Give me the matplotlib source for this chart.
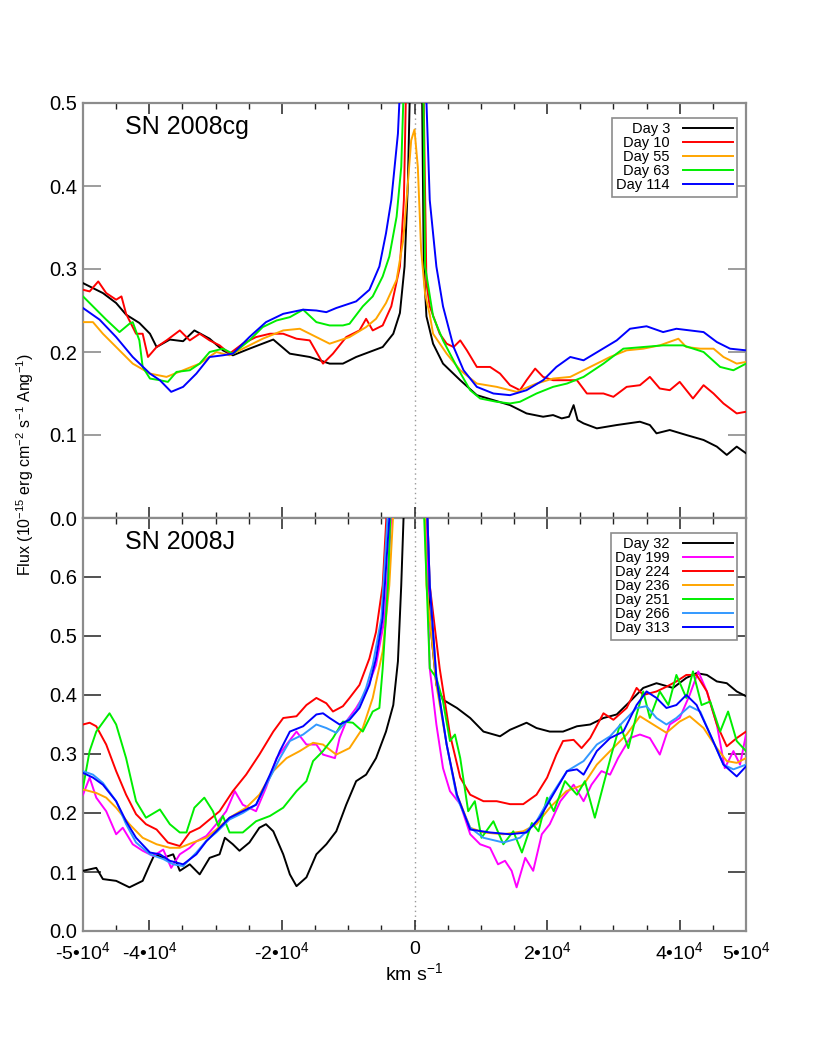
import matplotlib
matplotlib.use("Agg")
import matplotlib.pyplot as plt
from matplotlib.ticker import MultipleLocator, FormatStrFormatter

plt.rcParams['font.family'] = ['Liberation Sans', 'DejaVu Sans']
plt.rcParams['mathtext.fontset'] = 'custom'
plt.rcParams['mathtext.rm'] = 'Liberation Sans'
plt.rcParams['mathtext.it'] = 'Liberation Sans:italic'

# ---------------- SN 2008cg (top panel) ----------------
top_labels = ["Day 3", "Day 10", "Day 55", "Day 63", "Day 114"]
top_colors = ["#000000", "#FF0000", "#FFA500", "#00EE00", "#0000FF"]

v_cg_d3 = [-50000, -47000, -45000, -43500, -41500, -39900, -38900, -36900, -34900, -33200,
           -30900, -28900, -27400, -24900, -21300, -18800, -15800, -12800, -10800, -8800,
           -6800, -4800, -3200, -2200, -1500, -1000, -600, 0, 1100, 1400, 1800, 2800, 4300,
           6900, 9400, 11900, 14400, 16900, 19400, 20900, 22200, 23300, 24000, 24600, 25500,
           27500, 30500, 34000, 35500, 36500, 38500, 41000, 43600, 45600, 47100, 48600, 50000]
f_cg_d3 = [0.283, 0.271, 0.259, 0.245, 0.235, 0.222, 0.206, 0.215, 0.213, 0.226,
           0.216, 0.202, 0.196, 0.204, 0.215, 0.198, 0.194, 0.186, 0.186, 0.194,
           0.200, 0.206, 0.222, 0.247, 0.303, 0.403, 0.55, 3.0, 0.55, 0.303, 0.243, 0.210, 0.186,
           0.166, 0.148, 0.142, 0.136, 0.126, 0.122, 0.124, 0.120, 0.122, 0.136, 0.118, 0.114,
           0.108, 0.112, 0.116, 0.112, 0.102, 0.106, 0.100, 0.094, 0.086, 0.076, 0.086, 0.078]

v_cg_d10 = [-50000, -49000, -47700, -46500, -45000, -44200, -43500, -42000, -41000, -40200,
            -38900, -37400, -35400, -33900, -32400, -30900, -29400, -27900, -25900, -23900,
            -21800, -19800, -17800, -15800, -13800, -12300, -10300, -8300, -7300, -6300,
            -4800, -3500, -2200, -1600, -1200, 0, 1300, 1800, 2300, 3800, 4850, 5900, 6900,
            7900, 9400, 11400, 12900, 14400, 15900, 16900, 18200, 19400, 20900, 23000, 24500,
            26000, 28500, 30000, 32000, 34000, 35500, 37000, 38500, 40000, 42000, 43600,
            45100, 46600, 48600, 50000]
f_cg_d10 = [0.275, 0.273, 0.285, 0.271, 0.263, 0.267, 0.246, 0.222, 0.222, 0.194,
            0.206, 0.214, 0.226, 0.214, 0.222, 0.214, 0.208, 0.198, 0.210, 0.218,
            0.222, 0.222, 0.216, 0.214, 0.186, 0.198, 0.218, 0.226, 0.240, 0.226,
            0.232, 0.255, 0.303, 0.383, 0.55, 3.0, 0.55, 0.283, 0.255, 0.222, 0.210, 0.206, 0.214,
            0.202, 0.182, 0.182, 0.174, 0.160, 0.154, 0.166, 0.180, 0.170, 0.166, 0.166, 0.166,
            0.150, 0.150, 0.146, 0.158, 0.160, 0.170, 0.156, 0.154, 0.164, 0.144, 0.160,
            0.150, 0.138, 0.126, 0.128]

v_cg_d55 = [-50000, -48500, -47000, -45000, -42500, -39900, -37400, -34900, -32400, -29900,
            -27900, -25900, -22900, -19800, -17300, -14800, -12800, -9800, -7300, -5800,
            -4300, -2700, -1700, -1000, -500, 0, 500, 1000, 1600, 2300, 2800, 4850, 6900,
            9400, 12400, 15400, 18400, 20900, 23500, 26500, 29500, 32000, 34500, 37000,
            39800, 41000, 43100, 45100, 46600, 48600, 50000]
f_cg_d55 = [0.236, 0.236, 0.222, 0.206, 0.186, 0.174, 0.170, 0.178, 0.186, 0.200,
            0.196, 0.204, 0.216, 0.226, 0.228, 0.218, 0.210, 0.218, 0.230, 0.240,
            0.259, 0.287, 0.335, 0.403, 0.455, 0.468, 0.423, 0.323, 0.270, 0.245, 0.222, 0.198, 0.178,
            0.162, 0.158, 0.152, 0.162, 0.168, 0.170, 0.182, 0.194, 0.202, 0.204, 0.208,
            0.216, 0.206, 0.204, 0.204, 0.194, 0.186, 0.188]

v_cg_d63 = [-50000, -48500, -46500, -44500, -43000, -42500, -41500, -41000, -39900, -38400,
            -37200, -35900, -33900, -32400, -30900, -28900, -27400, -24900, -22900, -20800,
            -18800, -16800, -14800, -12800, -10800, -9800, -7800, -6300, -4800, -3800, -2700,
            -2000, -1500, 0, 1300, 1600, 2800, 4300, 6400, 8400, 9900, 12400, 14400, 15900,
            18400, 20900, 23000, 25500, 28500, 31500, 34500, 37500, 40500, 43600, 46100,
            48100, 50000]
f_cg_d63 = [0.267, 0.255, 0.239, 0.224, 0.234, 0.236, 0.214, 0.182, 0.168, 0.166,
            0.164, 0.176, 0.178, 0.186, 0.200, 0.204, 0.198, 0.214, 0.230, 0.238,
            0.242, 0.251, 0.236, 0.232, 0.232, 0.234, 0.255, 0.267, 0.291, 0.315, 0.363,
            0.423, 0.55, 3.0, 0.55, 0.303, 0.243, 0.214, 0.182, 0.154, 0.144, 0.140, 0.138, 0.140,
            0.150, 0.158, 0.162, 0.170, 0.186, 0.204, 0.206, 0.208, 0.208, 0.200, 0.182,
            0.178, 0.186]

v_cg_d114 = [-50000, -47500, -45000, -42500, -39900, -38400, -36700, -34900, -32900, -30900,
             -28900, -27400, -24900, -22400, -19800, -16800, -14800, -13300, -11800, -8800,
             -6800, -5300, -4300, -3500, -2500, -2000, 0, 1600, 2300, 3300, 4300, 5900, 7400,
             9400, 11900, 14400, 16900, 19400, 21400, 23500, 25500, 28000, 30500, 32500,
             35000, 37500, 39500, 43600, 45600, 47600, 50000]
f_cg_d114 = [0.253, 0.239, 0.218, 0.194, 0.174, 0.166, 0.152, 0.158, 0.174, 0.194,
             0.196, 0.198, 0.218, 0.236, 0.246, 0.251, 0.250, 0.248, 0.253, 0.261,
             0.275, 0.303, 0.343, 0.383, 0.463, 0.55, 3.0, 0.55, 0.383, 0.303, 0.255, 0.206, 0.178,
             0.158, 0.150, 0.148, 0.154, 0.166, 0.182, 0.194, 0.190, 0.202, 0.214, 0.228,
             0.231, 0.224, 0.228, 0.224, 0.212, 0.204, 0.202]

# ---------------- SN 2008J (bottom panel) ----------------
bot_labels = ["Day 32", "Day 199", "Day 224", "Day 236", "Day 251", "Day 266", "Day 313"]
bot_colors = ["#000000", "#FF00FF", "#FF0000", "#FFA500", "#00EE00", "#3399FF", "#0000FF"]

v_j_d32 = [-50000, -48000, -47000, -45000, -43000, -41000, -39900, -39200, -37900, -36400,
           -35400, -33900, -32400, -30900, -29400, -28600, -27400, -26400, -24900, -23400,
           -22400, -21300, -19800, -18800, -17800, -16300, -14800, -13300, -11800, -10300,
           -8800, -7300, -5800, -4300, -3200, -2500, -2000, -1500, 0, 1800, 2300, 3300, 4300,
           6400, 8400, 10400, 12900, 14400, 16900, 18400, 20400, 22400, 24500, 26500, 28500,
           30500, 32500, 34500, 36500, 39000, 41000, 42550, 44100, 45600, 47100, 48600, 50000]
f_j_d32 = [0.102, 0.107, 0.088, 0.085, 0.074, 0.085, 0.113, 0.130, 0.124, 0.130,
           0.102, 0.113, 0.096, 0.124, 0.130, 0.158, 0.147, 0.136, 0.150, 0.175,
           0.181, 0.169, 0.130, 0.096, 0.076, 0.091, 0.130, 0.147, 0.169, 0.214,
           0.254, 0.265, 0.293, 0.338, 0.383, 0.457, 0.586, 0.75, 3.0, 0.75, 0.530, 0.417, 0.392,
           0.378, 0.361, 0.338, 0.330, 0.341, 0.353, 0.344, 0.338, 0.338, 0.347, 0.350, 0.361,
           0.367, 0.389, 0.412, 0.420, 0.412, 0.429, 0.437, 0.434, 0.423, 0.420, 0.406, 0.398]

v_j_d199 = [-50000, -49000, -48000, -46500, -45000, -44000, -42500, -41000, -39400, -37900,
            -36700, -35400, -33900, -32900, -31400, -29900, -28400, -27100, -25900, -23900,
            -22400, -20800, -19300, -17800, -16300, -14800, -13800, -12000, -11300, -10300,
            -8800, -7300, -5800, -4500, -3200, 0, 1600, 2300, 3300, 4300, 5350, 6900, 8400,
            9900, 11400, 12600, 13650, 14650, 15400, 16700, 17900, 19200, 20400, 22000, 24000,
            25500, 26700, 28200, 29500, 30700, 32500, 34000, 35500, 37000, 38500, 40000,
            41500, 42800, 44100, 45600, 46800, 48100, 49100, 50000]
f_j_d199 = [0.231, 0.260, 0.226, 0.203, 0.164, 0.175, 0.147, 0.136, 0.127, 0.138,
            0.107, 0.130, 0.141, 0.152, 0.161, 0.181, 0.203, 0.237, 0.214, 0.203,
            0.243, 0.293, 0.316, 0.338, 0.316, 0.316, 0.299, 0.293, 0.327, 0.355,
            0.378, 0.406, 0.451, 0.530, 0.75, 3.0, 0.75, 0.445, 0.350, 0.276, 0.237, 0.215, 0.164,
            0.147, 0.141, 0.113, 0.119, 0.102, 0.074, 0.124, 0.102, 0.164, 0.181, 0.220, 0.248,
            0.220, 0.248, 0.271, 0.265, 0.293, 0.327, 0.333, 0.327, 0.299, 0.350, 0.361,
            0.400, 0.440, 0.406, 0.350, 0.276, 0.305, 0.282, 0.333]

v_j_d224 = [-50000, -49000, -48000, -46500, -45000, -43500, -42000, -40500, -38900, -37200,
            -35400, -33900, -32400, -30900, -29400, -27400, -25400, -23400, -21300, -19800,
            -17800, -16300, -14800, -13300, -12300, -10800, -9800, -8300, -6800, -5800,
            -4800, -4000, 0, 1800, 2300, 3800, 5350, 6900, 8400, 10400, 12400, 14400, 16400,
            18400, 20000, 21400, 22400, 24000, 25200, 26500, 28500, 30000, 32000, 33500,
            34500, 36500, 38000, 39500, 41000, 42550, 44100, 45600, 47100, 48600, 50000]
f_j_d224 = [0.350, 0.353, 0.347, 0.316, 0.271, 0.231, 0.198, 0.181, 0.172, 0.150,
            0.144, 0.167, 0.175, 0.189, 0.203, 0.237, 0.265, 0.299, 0.338, 0.361,
            0.364, 0.383, 0.395, 0.386, 0.372, 0.381, 0.395, 0.417, 0.462, 0.507,
            0.586, 0.75, 3.0, 0.75, 0.586, 0.445, 0.333, 0.260, 0.231, 0.220, 0.220, 0.215, 0.215,
            0.231, 0.260, 0.299, 0.322, 0.324, 0.310, 0.327, 0.369, 0.358, 0.378, 0.412,
            0.400, 0.406, 0.414, 0.423, 0.434, 0.434, 0.406, 0.350, 0.313, 0.327, 0.338]

v_j_d236 = [-50000, -48000, -46500, -45000, -43000, -41000, -38900, -36900, -35400, -33400,
            -31400, -29900, -27900, -25400, -23400, -21300, -19300, -17300, -15300, -13800,
            -11800, -9800, -7800, -6300, -4800, -3800, -3000, 0, 1500, 1800, 3300, 4850, 6400,
            8400, 10400, 13400, 16400, 18400, 20400, 22900, 25500, 27500, 29500, 32000,
            34000, 36000, 38000, 40000, 41500, 43600, 45600, 47100, 48600, 50000]
f_j_d236 = [0.240, 0.234, 0.226, 0.209, 0.181, 0.158, 0.147, 0.141, 0.141, 0.150,
            0.158, 0.172, 0.192, 0.209, 0.231, 0.271, 0.293, 0.305, 0.319, 0.316,
            0.299, 0.310, 0.344, 0.395, 0.474, 0.586, 0.75, 3.0, 0.75, 0.586, 0.417, 0.316, 0.231,
            0.175, 0.167, 0.164, 0.169, 0.181, 0.209, 0.237, 0.248, 0.282, 0.305, 0.333,
            0.364, 0.350, 0.336, 0.355, 0.364, 0.344, 0.310, 0.288, 0.285, 0.293]

v_j_d251 = [-50000, -49000, -48000, -46000, -45000, -43500, -42000, -40500, -38400, -36900,
            -35400, -34400, -33200, -31700, -30400, -29600, -28900, -27900, -25900, -23900,
            -21800, -19800, -17800, -16300, -15300, -13800, -12300, -10800, -9300, -7800,
            -6300, -5300, -4800, -4000, -3500, 0, 1300, 2300, 3300, 4300, 5350, 6100, 6900,
            8100, 9100, 10100, 11900, 13400, 14900, 16200, 17700, 18700, 20000, 21000, 22700,
            24500, 25700, 27200, 28500, 29700, 31000, 32250, 33500, 34500, 35500, 37000,
            38300, 39500, 41000, 42000, 43300, 44600, 46100, 47300, 48600, 50000]
f_j_d251 = [0.243, 0.305, 0.338, 0.369, 0.350, 0.293, 0.220, 0.192, 0.206, 0.181,
            0.167, 0.167, 0.209, 0.226, 0.203, 0.178, 0.195, 0.167, 0.167, 0.186,
            0.195, 0.209, 0.237, 0.254, 0.288, 0.305, 0.327, 0.355, 0.353, 0.338,
            0.372, 0.378, 0.445, 0.586, 0.75, 3.0, 0.75, 0.445, 0.429, 0.389, 0.322, 0.333, 0.293,
            0.203, 0.220, 0.158, 0.186, 0.147, 0.169, 0.133, 0.183, 0.169, 0.226, 0.203, 0.254,
            0.231, 0.254, 0.192, 0.248, 0.299, 0.350, 0.310, 0.367, 0.406, 0.361, 0.406,
            0.383, 0.434, 0.395, 0.440, 0.383, 0.389, 0.338, 0.372, 0.322, 0.305]

v_j_d266 = [-50000, -48500, -47000, -45000, -43500, -42000, -39900, -37900, -36400, -34900,
            -32900, -31400, -29900, -27900, -25900, -23900, -21800, -20300, -18800, -16800,
            -14800, -13300, -11800, -10300, -8800, -7300, -6300, -5000, -3800, 0, 1800, 2300,
            3300, 4850, 6400, 8400, 10400, 13400, 15900, 18400, 20400, 23000, 25500, 27500,
            29500, 31500, 33500, 35000, 36500, 38000, 39500, 41500, 43100, 44600, 46600,
            48100, 50000]
f_j_d266 = [0.271, 0.265, 0.251, 0.220, 0.181, 0.150, 0.130, 0.122, 0.113, 0.110,
            0.133, 0.153, 0.167, 0.189, 0.200, 0.214, 0.260, 0.293, 0.322, 0.333,
            0.350, 0.344, 0.336, 0.355, 0.372, 0.412, 0.451, 0.530, 0.75, 3.0, 0.75, 0.586,
            0.429, 0.316, 0.226, 0.175, 0.158, 0.150, 0.158, 0.186, 0.226, 0.271, 0.288, 0.316,
            0.330, 0.355, 0.378, 0.381, 0.361, 0.350, 0.361, 0.381, 0.372, 0.333, 0.282,
            0.274, 0.282]

v_j_d313 = [-50000, -48500, -47000, -45000, -43500, -42000, -39900, -38400, -36900, -34900,
            -32900, -31400, -29900, -27900, -25900, -23900, -21800, -20300, -18800, -16800,
            -14800, -13800, -12800, -11300, -9800, -8300, -6800, -5800, -4800, -3500, 0, 1800,
            2300, 3300, 4850, 6400, 8400, 11400, 14400, 16900, 18900, 20900, 23000, 24500,
            25500, 27500, 29500, 31500, 33500, 35000, 36500, 38000, 39500, 41000, 42550,
            44600, 46600, 48600, 50000]
f_j_d313 = [0.268, 0.260, 0.248, 0.220, 0.186, 0.158, 0.133, 0.130, 0.119, 0.113,
            0.130, 0.152, 0.169, 0.192, 0.203, 0.214, 0.265, 0.305, 0.338, 0.347,
            0.367, 0.369, 0.361, 0.350, 0.358, 0.378, 0.417, 0.462, 0.530, 0.75, 3.0, 0.75,
            0.586, 0.429, 0.316, 0.231, 0.172, 0.167, 0.164, 0.167, 0.192, 0.231, 0.271, 0.274,
            0.265, 0.305, 0.327, 0.338, 0.383, 0.406, 0.395, 0.378, 0.383, 0.400, 0.383,
            0.333, 0.282, 0.262, 0.279]

top_series = [(v_cg_d3, f_cg_d3), (v_cg_d10, f_cg_d10), (v_cg_d55, f_cg_d55),
              (v_cg_d63, f_cg_d63), (v_cg_d114, f_cg_d114)]
bot_series = [(v_j_d32, f_j_d32), (v_j_d199, f_j_d199), (v_j_d224, f_j_d224),
              (v_j_d236, f_j_d236), (v_j_d251, f_j_d251), (v_j_d266, f_j_d266),
              (v_j_d313, f_j_d313)]

xtick_vals = [-50000, -40000, -20000, 0, 20000, 40000, 50000]
xtick_text = ['-5\u202210$^{4}$', '-4\u202210$^{4}$', '-2\u202210$^{4}$', '0',
              '2\u202210$^{4}$', '4\u202210$^{4}$', '5\u202210$^{4}$']
top_yticks = [0.0, 0.1, 0.2, 0.3, 0.4, 0.5]
bot_yticks = [0.0, 0.1, 0.2, 0.3, 0.4, 0.5, 0.6]

W, H = 830, 1038
fig = plt.figure(figsize=(W / 100, H / 100), dpi=100)
L, R = 83 / W, 746 / W
ax1 = fig.add_axes([L, 1 - 518 / H, R - L, (518 - 103) / H])
ax2 = fig.add_axes([L, 1 - 931 / H, R - L, (931 - 518) / H], sharex=ax1)

spine_col = '#8c8c8c'
for ax, ycol in ((ax1, spine_col), (ax2, '#333333')):
    for s in ax.spines.values():
        s.set_color(spine_col)
        s.set_linewidth(1.6)
    ax.set_xlim(-50000, 50000)
    ax.axvline(0, color='#999999', ls=(0, (1, 2.5)), lw=1.0, zorder=1)
    ax.tick_params(axis='x', which='major', direction='in', length=8, width=1.1,
                   color='#222222', top=True, bottom=True)
    ax.tick_params(axis='x', which='minor', direction='in', length=4.5, width=1.0,
                   color='#222222', top=True, bottom=True)
    ax.tick_params(axis='y', which='major', direction='in', length=13, width=1.2,
                   color=ycol, left=True, right=True, labelsize=14.5, pad=4)
    ax.tick_params(axis='y', which='minor', left=False, right=False)

ax1.set_ylim(0, 0.5)
ax2.set_ylim(0, 0.7)
ax1.set_yticks(top_yticks)
ax2.set_yticks(bot_yticks)
ax1.yaxis.set_major_formatter(FormatStrFormatter('%.1f'))
ax2.yaxis.set_major_formatter(FormatStrFormatter('%.1f'))

for (v, f), lab, c in zip(top_series, top_labels, top_colors):
    ax1.plot(v, f, color=c, lw=1.4, label=lab, zorder=3)
for (v, f), lab, c in zip(bot_series, bot_labels, bot_colors):
    ax2.plot(v, f, color=c, lw=1.4, label=lab, zorder=3)

ax2.set_xticks(xtick_vals)
ax2.set_xticklabels(xtick_text, fontsize=14)
ax2.xaxis.set_minor_locator(MultipleLocator(5000))
ax1.tick_params(axis='x', labelbottom=False)
ax2.tick_params(axis='x', which='major', pad=7)
ax2.set_xlabel('km s$^{-1}$', fontsize=14, labelpad=0)

ax1.text(0.063, 0.972, 'SN 2008cg', transform=ax1.transAxes, fontsize=18,
         va='top', ha='left')
ax2.text(0.063, 0.972, 'SN 2008J', transform=ax2.transAxes, fontsize=18,
         va='top', ha='left')

for ax in (ax1, ax2):
    leg = ax.legend(loc='upper right', bbox_to_anchor=(0.9864, 0.9638), markerfirst=False,
                    fancybox=False, fontsize=10.5, handlelength=3.4, labelspacing=0.0,
                    borderpad=0.3, handletextpad=0.9, borderaxespad=0.0, framealpha=1)
    leg.get_frame().set_edgecolor('#8c8c8c')
    leg.get_frame().set_linewidth(1.2)
    for t in leg.get_texts():
        t.set_ha('right')

fig.text(25 / W, 1 - 465 / H,
         'Flux (10$^{-15}$ erg cm$^{-2}$ s$^{-1}$ Ang$^{-1}$)',
         rotation=90, va='center', ha='center', fontsize=11.5)

fig.savefig('out.png', dpi=100)
